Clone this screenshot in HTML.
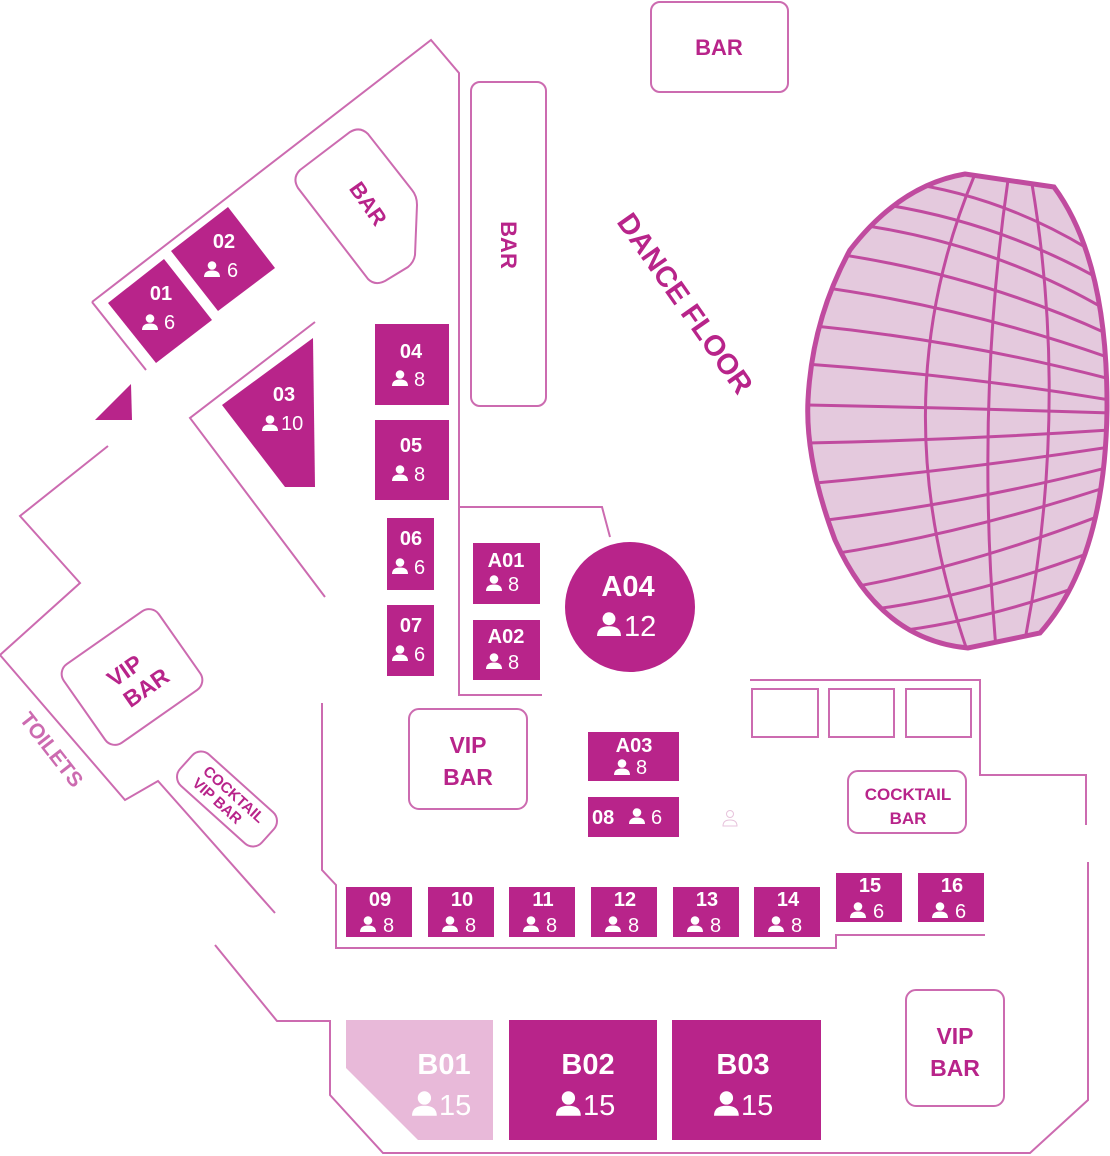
<!DOCTYPE html>
<html><head><meta charset="utf-8"><style>
html,body{margin:0;padding:0;background:#fff}
svg{display:block}
text{font-family:"Liberation Sans",sans-serif}
.b{font-weight:bold;fill:#fff;font-size:20px}
.n{fill:#fff;font-size:20px}
.l{fill:#b8248a;font-weight:bold}
</style></head><body>
<svg width="1110" height="1156" viewBox="0 0 1110 1156" xmlns="http://www.w3.org/2000/svg">
<defs>
<g id="p"><circle cx="8" cy="4.5" r="4.3" fill="#fff"/><path d="M0,16 Q0,9.5 8,9.5 Q16,9.5 16,16 Z" fill="#fff"/></g>
<clipPath id="ball"><path d="M965,174 L1054,187 Q1108,260 1107,410 Q1105,560 1040,633 L968,648 Q880,640 835,540 Q805,460 808,400 Q812,320 850,250 Q900,185 965,174 Z"/></clipPath>
</defs>
<g fill="none" stroke="#cc6bb0" stroke-width="2">
<path d="M92,302 L431,40 L459,73 L459,695 L542,695"/>
<path d="M459,507 L602,507 L610,537"/>
<path d="M92,302 L146,370"/>
<path d="M315,322 L190,418 L325,597"/>
<path d="M108,446 L20,516 L80,583 L0,655 L125,800 L158,781 L275,913"/>
<path d="M215,945 L277,1021 L330,1021 L330,1095 L383,1153 L1030,1153 L1088,1100 L1088,862"/>
<path d="M322,703 L322,870 L336,885 L336,948 L836,948 L836,935 L985,935"/>
<path d="M750,680 L980,680 L980,775 L1086,775 L1086,825"/>
<rect x="752" y="689" width="66" height="48"/>
<rect x="829" y="689" width="65" height="48"/>
<rect x="906" y="689" width="65" height="48"/>
<rect x="651" y="2" width="137" height="90" rx="9"/>
<rect x="471" y="82" width="75" height="324" rx="9"/>
<path d="M300,170 L350,132 Q360,126 368,134 L412,190 Q417,196 417,205 L415,255 Q414,262 408,267 L385,281 Q375,286 368,279 L298,188 Q292,178 300,170 Z"/>
<rect x="409" y="709" width="118" height="100" rx="10"/>
<rect x="848" y="771" width="118" height="62" rx="10"/>
<rect x="906" y="990" width="98" height="116" rx="10"/>
<rect x="-58" y="-48" width="116" height="96" rx="12" transform="translate(132,677) rotate(-35)"/>
<rect x="-55" y="-21" width="110" height="42" rx="12" transform="translate(227,799) rotate(42)"/>
</g>
<!-- disco ball -->
<g clip-path="url(#ball)">
<rect x="800" y="165" width="310" height="490" fill="#e4c9dd"/>
<g fill="none" stroke="#c04b9f" stroke-width="3">
<path d="M900,182 Q1000,195 1090,250"/>
<path d="M850,200 Q990,215 1110,285"/>
<path d="M820,220 Q980,235 1110,312"/>
<path d="M808,250 Q970,270 1110,335"/>
<path d="M805,285 Q960,305 1110,358"/>
<path d="M805,325 Q960,340 1110,379"/>
<path d="M805,364 Q960,375 1110,400"/>
<path d="M805,405 Q960,408 1110,413"/>
<path d="M805,443 Q960,440 1110,430"/>
<path d="M805,484 Q960,470 1110,447"/>
<path d="M810,522 Q960,505 1110,467"/>
<path d="M820,556 Q960,535 1110,486"/>
<path d="M835,590 Q960,570 1110,512"/>
<path d="M850,612 Q970,600 1110,545"/>
<path d="M870,634 Q980,625 1110,575"/>
</g>
<g fill="none" stroke="#c04b9f" stroke-width="3">
<path d="M975,174 Q880,400 967,650"/>
<path d="M1008,180 Q975,410 996,648"/>
<path d="M1032,184 Q1070,410 1024,645"/>
</g>
</g>
<path d="M965,174 L1054,187 Q1108,260 1107,410 Q1105,560 1040,633 L968,648 Q880,640 835,540 Q805,460 808,400 Q812,320 850,250 Q900,185 965,174 Z" fill="none" stroke="#c04b9f" stroke-width="5"/>

<!-- tables -->
<g fill="#b8248a">
<polygon points="108,303 164,259 212,320 156,363"/>
<polygon points="171,251 228,207 275,268 218,311"/>
<polygon points="222,405 313,338 315,487 285,487"/>
<polygon points="95,420 131,384 132,420"/>
<rect x="375" y="324" width="74" height="81"/>
<rect x="375" y="420" width="74" height="80"/>
<rect x="387" y="518" width="47" height="72"/>
<rect x="387" y="605" width="47" height="71"/>
<rect x="473" y="543" width="67" height="61"/>
<rect x="473" y="620" width="67" height="60"/>
<circle cx="630" cy="607" r="65"/>
<rect x="588" y="732" width="91" height="49"/>
<rect x="588" y="797" width="91" height="40"/>
<rect x="346" y="887" width="66" height="50"/>
<rect x="428" y="887" width="66" height="50"/>
<rect x="509" y="887" width="66" height="50"/>
<rect x="591" y="887" width="66" height="50"/>
<rect x="673" y="887" width="66" height="50"/>
<rect x="754" y="887" width="66" height="50"/>
<rect x="836" y="873" width="66" height="49"/>
<rect x="918" y="873" width="66" height="49"/>
<rect x="509" y="1020" width="148" height="120"/>
<rect x="672" y="1020" width="149" height="120"/>
</g>
<polygon points="346,1020 493,1020 493,1140 418,1140 346,1068" fill="#e8b9d9"/>

<!-- table labels -->
<text class="b" x="161" y="300" text-anchor="middle">01</text>
<use href="#p" x="142" y="314"/><text class="n" x="164" y="329">6</text>
<text class="b" x="224" y="248" text-anchor="middle">02</text>
<use href="#p" x="204" y="261"/><text class="n" x="227" y="277">6</text>
<text class="b" x="284" y="401" text-anchor="middle">03</text>
<use href="#p" x="262" y="415"/><text class="n" x="281" y="430">10</text>
<text class="b" x="411" y="358" text-anchor="middle">04</text>
<use href="#p" x="392" y="370"/><text class="n" x="414" y="386">8</text>
<text class="b" x="411" y="452" text-anchor="middle">05</text>
<use href="#p" x="392" y="465"/><text class="n" x="414" y="481">8</text>
<text class="b" x="411" y="545" text-anchor="middle">06</text>
<use href="#p" x="392" y="558"/><text class="n" x="414" y="574">6</text>
<text class="b" x="411" y="632" text-anchor="middle">07</text>
<use href="#p" x="392" y="645"/><text class="n" x="414" y="661">6</text>
<text class="b" x="506" y="567" text-anchor="middle">A01</text>
<use href="#p" x="486" y="575"/><text class="n" x="508" y="591">8</text>
<text class="b" x="506" y="643" text-anchor="middle">A02</text>
<use href="#p" x="486" y="653"/><text class="n" x="508" y="669">8</text>
<text class="b" x="628" y="596" text-anchor="middle" style="font-size:29px">A04</text>
<g transform="translate(597,612) scale(1.5)"><use href="#p"/></g>
<text class="n" x="624" y="636" style="font-size:29px">12</text>
<text class="b" x="634" y="752" text-anchor="middle">A03</text>
<use href="#p" x="614" y="759"/><text class="n" x="636" y="774">8</text>
<text class="b" x="592" y="824">08</text>
<use href="#p" x="629" y="808"/><text class="n" x="651" y="824">6</text>
<g transform="translate(722,810)" fill="none" stroke="#e7c3dc" stroke-width="1"><circle cx="8" cy="4" r="3.5"/><path d="M1,16 Q1,10 8,10 Q15,10 15,16 Z"/></g>
<g>
<text class="b" x="380" y="906" text-anchor="middle">09</text><use href="#p" x="360" y="916"/><text class="n" x="383" y="932">8</text>
<text class="b" x="462" y="906" text-anchor="middle">10</text><use href="#p" x="442" y="916"/><text class="n" x="465" y="932">8</text>
<text class="b" x="543" y="906" text-anchor="middle">11</text><use href="#p" x="523" y="916"/><text class="n" x="546" y="932">8</text>
<text class="b" x="625" y="906" text-anchor="middle">12</text><use href="#p" x="605" y="916"/><text class="n" x="628" y="932">8</text>
<text class="b" x="707" y="906" text-anchor="middle">13</text><use href="#p" x="687" y="916"/><text class="n" x="710" y="932">8</text>
<text class="b" x="788" y="906" text-anchor="middle">14</text><use href="#p" x="768" y="916"/><text class="n" x="791" y="932">8</text>
<text class="b" x="870" y="892" text-anchor="middle">15</text><use href="#p" x="850" y="902"/><text class="n" x="873" y="918">6</text>
<text class="b" x="952" y="892" text-anchor="middle">16</text><use href="#p" x="932" y="902"/><text class="n" x="955" y="918">6</text>
</g>
<text class="b" x="444" y="1074" text-anchor="middle" style="font-size:29px">B01</text>
<g transform="translate(412,1091) scale(1.55)"><use href="#p"/></g><text class="n" x="439" y="1115" style="font-size:29px">15</text>
<text class="b" x="588" y="1074" text-anchor="middle" style="font-size:29px">B02</text>
<g transform="translate(556,1091) scale(1.55)"><use href="#p"/></g><text class="n" x="583" y="1115" style="font-size:29px">15</text>
<text class="b" x="743" y="1074" text-anchor="middle" style="font-size:29px">B03</text>
<g transform="translate(714,1091) scale(1.55)"><use href="#p"/></g><text class="n" x="741" y="1115" style="font-size:29px">15</text>

<!-- area labels -->
<text class="l" x="719" y="55" text-anchor="middle" font-size="22">BAR</text>
<text class="l" font-size="22" text-anchor="middle" transform="translate(501,245) rotate(90)">BAR</text>
<text class="l" font-size="22" text-anchor="middle" transform="translate(362,208) rotate(55)">BAR</text>
<text class="l" font-size="29" text-anchor="middle" transform="translate(677,309) rotate(55)">DANCE FLOOR</text>
<text class="l" font-size="23" text-anchor="middle" x="468" y="753">VIP</text>
<text class="l" font-size="23" text-anchor="middle" x="468" y="785">BAR</text>
<text class="l" font-size="17" text-anchor="middle" x="908" y="800">COCKTAIL</text>
<text class="l" font-size="17" text-anchor="middle" x="908" y="824">BAR</text>
<text class="l" font-size="23" text-anchor="middle" x="955" y="1044">VIP</text>
<text class="l" font-size="23" text-anchor="middle" x="955" y="1076">BAR</text>
<g transform="translate(136,680) rotate(-35)"><text class="l" font-size="23" text-anchor="middle" x="-4" y="-6">VIP</text><text class="l" font-size="23" text-anchor="middle" x="4" y="20">BAR</text></g>
<g transform="translate(227,799) rotate(42)"><text class="l" font-size="15" text-anchor="middle" x="2" y="-3">COCKTAIL</text><text class="l" font-size="15" text-anchor="middle" x="-6" y="13">VIP BAR</text></g>
<text font-size="21" font-weight="bold" fill="#cc6bb0" text-anchor="middle" transform="translate(46,754) rotate(52)">TOILETS</text>
</svg>
</body></html>
